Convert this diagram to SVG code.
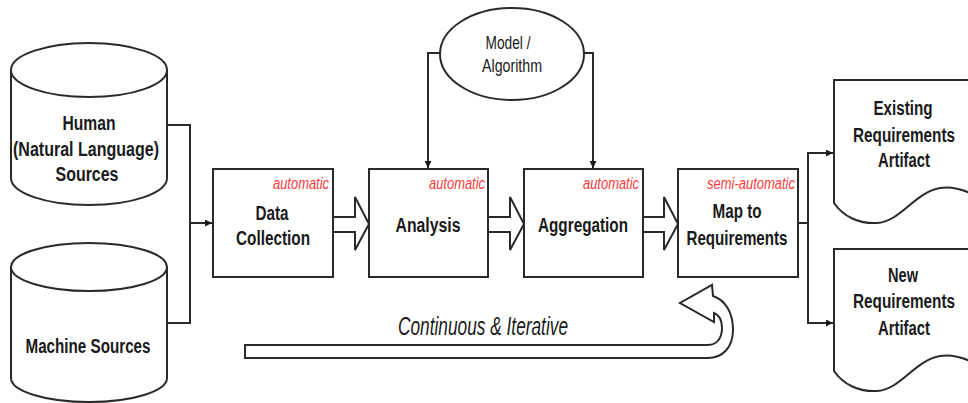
<svg xmlns="http://www.w3.org/2000/svg" width="968" height="403" viewBox="0 0 968 403">
<defs>
<marker id="ah" viewBox="0 0 10 10" refX="10" refY="5" markerWidth="7" markerHeight="7" markerUnits="userSpaceOnUse" orient="auto"><path d="M0 0 L10 5 L0 10 Z" fill="#1a1a1a"/></marker>
</defs>
<style>
.shape{fill:#fff;stroke:#2a2a2a;stroke-width:2}
.conn{fill:none;stroke:#2a2a2a;stroke-width:2}
.lbl{font-family:"Liberation Sans",Arial,sans-serif;font-weight:bold;font-size:20px;fill:#1a1a1a;text-anchor:middle}
.reg{font-family:"Liberation Sans",Arial,sans-serif;font-size:19px;fill:#1a1a1a;text-anchor:middle}
.red{font-family:"Liberation Sans",Arial,sans-serif;font-style:italic;font-size:16px;fill:#ff3b3b;text-anchor:end}
.it{font-family:"Liberation Sans",Arial,sans-serif;font-style:italic;font-size:25px;fill:#1a1a1a}
</style>
<rect width="968" height="403" fill="#fff"/>
<g id="connectors">
<path class="conn" d="M167 125 H190 V323 H167"/>
<path class="conn" d="M190 223 H212" marker-end="url(#ah)"/>
<path class="conn" d="M440 53 H428 V168" marker-end="url(#ah)"/>
<path class="conn" d="M584 53 H593 V168" marker-end="url(#ah)"/>
<path class="conn" d="M798 223 H808"/>
<path class="conn" d="M834 153 H808 V323 H834"/>
<path class="conn" d="M808 153 H833" marker-end="url(#ah)"/>
<path class="conn" d="M808 323 H833" marker-end="url(#ah)"/>
<path class="shape" d="M333 217 H355 V197 L369 224 L355 250 V232 H333 Z"/>
<path class="shape" d="M488 217 H510 V197 L524 224 L510 250 V232 H488 Z"/>
<path class="shape" d="M643 217 H664 V197 L678 224 L664 250 V232 H643 Z"/>
</g>
<g id="human">
<path class="shape" d="M11 70 A78 27 0 0 1 167 70 V178 A78 27 0 0 1 11 178 Z"/>
<path class="conn" d="M11 70 A78 27 0 0 0 167 70"/>
<text class="lbl" x="89" y="130" textLength="53" lengthAdjust="spacingAndGlyphs">Human</text>
<text class="lbl" x="86" y="155.5" textLength="146" lengthAdjust="spacingAndGlyphs">(Natural Language)</text>
<text class="lbl" x="87" y="181" textLength="63" lengthAdjust="spacingAndGlyphs">Sources</text>
</g>
<g id="machine">
<path class="shape" d="M11 267 A78 24 0 0 1 167 267 V378 A78 24 0 0 1 11 378 Z"/>
<path class="conn" d="M11 267 A78 24 0 0 0 167 267"/>
<text class="lbl" x="88" y="353" textLength="125" lengthAdjust="spacingAndGlyphs">Machine Sources</text>
</g>
<g id="model">
<ellipse class="shape" cx="512" cy="54" rx="72" ry="46"/>
<text class="reg" x="508" y="49" textLength="45" lengthAdjust="spacingAndGlyphs">Model /</text>
<text class="reg" x="512" y="72" textLength="60" lengthAdjust="spacingAndGlyphs">Algorithm</text>
</g>
<g id="datacollection">
<rect class="shape" x="213" y="169" width="120" height="108"/>
<text class="red" x="329" y="189" textLength="56" lengthAdjust="spacingAndGlyphs">automatic</text>
<text class="lbl" x="272" y="220" textLength="33" lengthAdjust="spacingAndGlyphs">Data</text>
<text class="lbl" x="273" y="245" textLength="74" lengthAdjust="spacingAndGlyphs">Collection</text>
</g>
<g id="analysis">
<rect class="shape" x="369" y="169" width="119" height="108"/>
<text class="red" x="485" y="189" textLength="56" lengthAdjust="spacingAndGlyphs">automatic</text>
<text class="lbl" x="428" y="232" textLength="65" lengthAdjust="spacingAndGlyphs">Analysis</text>
</g>
<g id="aggregation">
<rect class="shape" x="524" y="169" width="119" height="108"/>
<text class="red" x="639" y="189" textLength="56" lengthAdjust="spacingAndGlyphs">automatic</text>
<text class="lbl" x="583" y="232" textLength="90" lengthAdjust="spacingAndGlyphs">Aggregation</text>
</g>
<g id="map">
<rect class="shape" x="678" y="169" width="120" height="108"/>
<text class="red" x="795" y="189" textLength="88" lengthAdjust="spacingAndGlyphs">semi-automatic</text>
<text class="lbl" x="737" y="218" textLength="49" lengthAdjust="spacingAndGlyphs">Map to</text>
<text class="lbl" x="737" y="245" textLength="101" lengthAdjust="spacingAndGlyphs">Requirements</text>
</g>
<g id="existing">
<path class="shape" d="M834 80 H980 V198 C966 190 953 186 940 188 C915 192 900 222 877 223 C858 224 843 216 834 203 Z"/>
<text class="lbl" x="903" y="115" textLength="59" lengthAdjust="spacingAndGlyphs">Existing</text>
<text class="lbl" x="904" y="142" textLength="102" lengthAdjust="spacingAndGlyphs">Requirements</text>
<text class="lbl" x="904" y="167" textLength="52" lengthAdjust="spacingAndGlyphs">Artifact</text>
</g>
<g id="new">
<path class="shape" d="M834 249 H980 V366 C966 358 953 354 940 356 C915 360 900 390 877 391 C858 392 843 384 834 371 Z"/>
<text class="lbl" x="903" y="282" textLength="30" lengthAdjust="spacingAndGlyphs">New</text>
<text class="lbl" x="904" y="308" textLength="102" lengthAdjust="spacingAndGlyphs">Requirements</text>
<text class="lbl" x="904" y="335" textLength="52" lengthAdjust="spacingAndGlyphs">Artifact</text>
</g>
<g id="iterative">
<path class="shape" d="M245 345 H708 C717 345 722 338 722 328 C722 320 719 315 714 313 L714 322 L680 303 L712 285 L713 296 C725 300 733 312 733 330 C733 348 722 358 708 358 H245 Z"/>
<text class="it" x="398" y="335" textLength="170" lengthAdjust="spacingAndGlyphs">Continuous &amp; Iterative</text>
</g>
</svg>
